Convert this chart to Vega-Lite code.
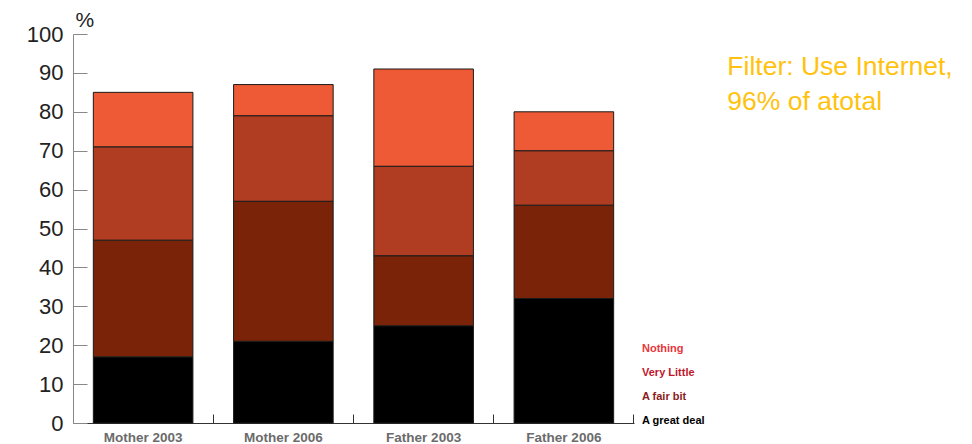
{
  "$schema": "https://vega.github.io/schema/vega-lite/v6.json",
  "width": 561,
  "height": 389,
  "autosize": {"type": "none"},
  "padding": {"left": 73, "top": 34, "right": 338, "bottom": 21},
  "background": "white",
  "title": {
    "text": ["Filter: Use Internet,", "96% of atotal"],
    "orient": "right",
    "angle": 0,
    "anchor": "start",
    "align": "left",
    "baseline": "top",
    "offset": 23,
    "dx": -226,
    "dy": 45,
    "fontSize": 26.5,
    "font": "Liberation Sans",
    "fontWeight": "normal",
    "color": "#ffc20e",
    "lineHeight": 35
  },
  "data": {
    "values": [
      {"group": "Mother 2003", "level": "A great deal", "rank": 1, "value": 17},
      {"group": "Mother 2003", "level": "A fair bit", "rank": 2, "value": 30},
      {"group": "Mother 2003", "level": "Very Little", "rank": 3, "value": 24},
      {"group": "Mother 2003", "level": "Nothing", "rank": 4, "value": 14},
      {"group": "Mother 2006", "level": "A great deal", "rank": 1, "value": 21},
      {"group": "Mother 2006", "level": "A fair bit", "rank": 2, "value": 36},
      {"group": "Mother 2006", "level": "Very Little", "rank": 3, "value": 22},
      {"group": "Mother 2006", "level": "Nothing", "rank": 4, "value": 8},
      {"group": "Father 2003", "level": "A great deal", "rank": 1, "value": 25},
      {"group": "Father 2003", "level": "A fair bit", "rank": 2, "value": 18},
      {"group": "Father 2003", "level": "Very Little", "rank": 3, "value": 23},
      {"group": "Father 2003", "level": "Nothing", "rank": 4, "value": 25},
      {"group": "Father 2006", "level": "A great deal", "rank": 1, "value": 32},
      {"group": "Father 2006", "level": "A fair bit", "rank": 2, "value": 24},
      {"group": "Father 2006", "level": "Very Little", "rank": 3, "value": 14},
      {"group": "Father 2006", "level": "Nothing", "rank": 4, "value": 10}
    ]
  },
  "mark": {"type": "bar", "stroke": "#1a1a1a", "strokeWidth": 1},
  "encoding": {
    "x": {
      "field": "group",
      "type": "nominal",
      "sort": ["Mother 2003", "Mother 2006", "Father 2003", "Father 2006"],
      "scale": {"paddingInner": 0.29, "paddingOuter": 0.145},
      "axis": {
        "title": null,
        "labelAngle": 0,
        "bandPosition": 1.2042,
        "labelOffset": 0,
        "tickSize": -9,
        "labelPadding": 16,
        "labelBaseline": "top",
        "labelFont": "Liberation Sans",
        "labelFontWeight": "bold",
        "labelFontSize": 13.5,
        "labelColor": "#6b6b6b",
        "domainColor": "#333333",
        "tickColor": "#333333",
        "grid": false
      }
    },
    "y": {
      "field": "value",
      "type": "quantitative",
      "stack": "zero",
      "scale": {"domain": [0, 100], "nice": false},
      "axis": {
        "values": [0, 10, 20, 30, 40, 50, 60, 70, 80, 90, 100],
        "title": "%",
        "titleAngle": 0,
        "titleX": 2,
        "titleY": -8,
        "titleAlign": "left",
        "titleBaseline": "alphabetic",
        "titleFont": "Liberation Sans",
        "titleFontSize": 21,
        "titleFontWeight": "normal",
        "titleColor": "#222222",
        "tickSize": -14,
        "labelPadding": 24,
        "labelFont": "Liberation Sans",
        "labelFontSize": 22,
        "labelColor": "#222222",
        "domainColor": "#888888",
        "tickColor": "#888888",
        "grid": false
      }
    },
    "color": {
      "field": "level",
      "type": "nominal",
      "scale": {
        "domain": ["Nothing", "Very Little", "A fair bit", "A great deal"],
        "range": ["#ee5a35", "#b03d22", "#7a2308", "#000000"]
      },
      "legend": {
        "title": null,
        "orient": "none",
        "legendX": 558,
        "legendY": 309,
        "symbolSize": 0,
        "symbolStrokeWidth": 0,
        "symbolOpacity": 0,
        "labelOffset": 0,
        "labelFont": "Liberation Sans",
        "labelFontWeight": "bold",
        "labelFontSize": 11,
        "rowPadding": 12,
        "labelLimit": 200,
        "labelColor": {"expr": "datum.value === 'Nothing' ? '#e8373c' : datum.value === 'Very Little' ? '#c0162b' : datum.value === 'A fair bit' ? '#8a1c1c' : '#000000'"}
      }
    },
    "order": {"field": "rank", "type": "quantitative"}
  },
  "config": {"view": {"stroke": null}}
}
